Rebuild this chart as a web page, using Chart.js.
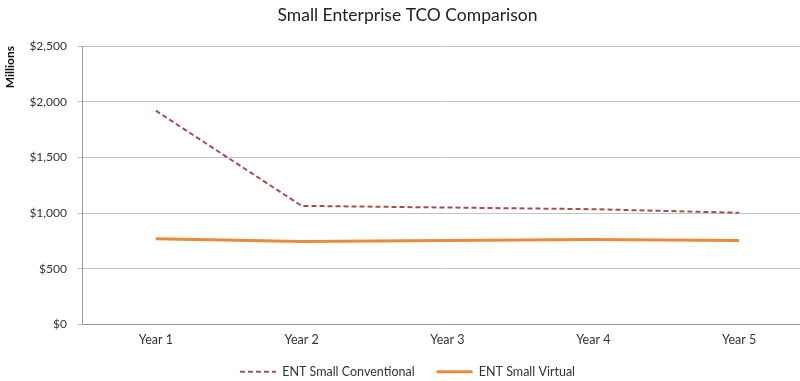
<!DOCTYPE html>
<html>
<head>
<meta charset="utf-8">
<script src="https://cdn.jsdelivr.net/npm/chart.js@4"></script>
<style>
  html, body { margin: 0; padding: 0; background: #fff; overflow: hidden; }
  #wrap { width: 800px; height: 381px; overflow: hidden; }
</style>
</head>
<body>
<div id="wrap"><canvas id="tcoChart" width="812" height="381"></canvas></div>
<script>
// Chart data
const years = ['Year 1', 'Year 2', 'Year 3', 'Year 4', 'Year 5'];
const conventional = [1920, 1065, 1050, 1035, 1003];
const virtualCost = [770, 745, 755, 762, 753];
const yTicks = [0, 500, 1000, 1500, 2000, 2500];

const fontFamily = 'Lato, "Open Sans", sans-serif';

function money(v) {
    return '$' + v.toLocaleString('en-US');
}

// Pull the legend a bit closer to the axis labels while keeping the wide item spacing
const legendNudge = {
    id: 'legendNudge',
    afterInit: function(chart) {
        const legend = chart.legend;
        const fit = legend.fit;
        const draw = legend.draw;
        legend.fit = function() {
            fit.call(this);
            this.height -= 12;
        };
        legend.draw = function() {
            const c = this.ctx;
            c.save();
            c.translate(0, -12);
            draw.call(this);
            c.restore();
        };
    }
};

const ctx = document.getElementById('tcoChart').getContext('2d');
new Chart(ctx, {
    type: 'line',
    data: {
        labels: years,
        datasets: [{
            label: 'ENT Small Conventional',
            data: conventional,
            borderColor: '#a64c4c',
            backgroundColor: '#a64c4c',
            borderWidth: 2,
            borderDash: [5, 3],
            pointRadius: 0,
            tension: 0
        }, {
            label: 'ENT Small Virtual',
            data: virtualCost,
            borderColor: '#ea8a3b',
            backgroundColor: '#ea8a3b',
            borderWidth: 3,
            pointRadius: 0,
            tension: 0
        }]
    },
    plugins: [legendNudge],
    options: {
        responsive: false,
        animation: false,
        layout: { padding: { left: 3, right: 0, top: 4, bottom: -7 } },
        plugins: {
            title: {
                display: true,
                text: 'Small Enterprise TCO Comparison',
                color: '#222',
                font: { family: fontFamily, size: 17.5, weight: 'normal' },
                padding: { top: 1, bottom: 20 }
            },
            legend: {
                position: 'bottom',
                labels: {
                    usePointStyle: true,
                    pointStyle: 'line',
                    pointStyleWidth: 36,
                    boxWidth: 36,
                    boxHeight: 8,
                    padding: 22,
                    color: '#333',
                    font: { family: fontFamily, size: 12.5 },
                    // keep the dash pattern of each series in its legend sample
                    generateLabels: function(chart) {
                        const items = Chart.defaults.plugins.legend.labels.generateLabels(chart);
                        items.forEach(function(item) {
                            const ds = chart.data.datasets[item.datasetIndex];
                            item.lineDash = ds.borderDash || [];
                            item.lineWidth = ds.borderWidth;
                            item.strokeStyle = ds.borderColor;
                        });
                        return items;
                    }
                }
            },
            tooltip: { enabled: false }
        },
        scales: {
            x: {
                offset: true,
                grid: { display: false, drawTicks: false },
                border: { display: true, color: '#999' },
                ticks: {
                    color: '#333',
                    padding: 8,
                    font: { family: fontFamily, size: 12.5 }
                }
            },
            y: {
                min: 0,
                max: 2500,
                afterBuildTicks: function(axis) {
                    axis.ticks = yTicks.map(v => ({ value: v }));
                },
                grid: { color: '#c4c4c4', tickLength: 5 },
                border: { display: true, color: '#999' },
                ticks: {
                    color: '#333',
                    padding: 11,
                    font: { family: fontFamily, size: 12 },
                    callback: v => money(v)
                },
                title: {
                    display: true,
                    text: 'Millions',
                    align: 'end',
                    color: '#111',
                    font: { family: fontFamily, size: 12, weight: 'bold' },
                    padding: { top: 0, bottom: 1 }
                }
            }
        }
    }
});
</script>
</body>
</html>
